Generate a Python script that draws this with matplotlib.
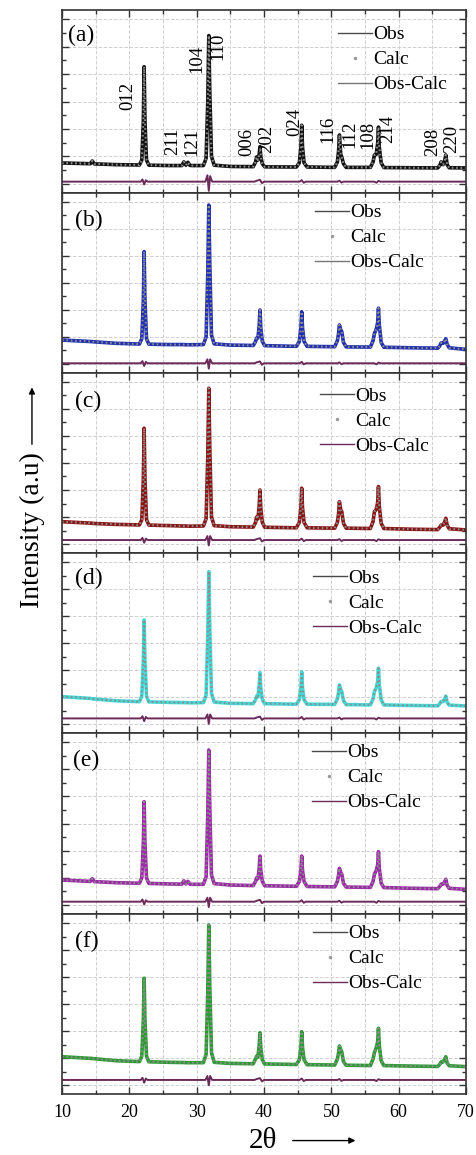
import numpy as np
import matplotlib
matplotlib.use("Agg")
import matplotlib.pyplot as plt
from matplotlib.lines import Line2D

plt.rcParams['font.family'] = ['Liberation Serif', 'DejaVu Serif']

# shared 2theta vertices of the patterns
two_theta = [10, 14.2, 14.5, 14.8, 18,
             21.5, 21.85, 22.08, 22.2, 22.32, 22.55, 22.9,
             26, 27.8, 28.1, 28.4, 28.7, 29.0, 29.3,
             31.0, 31.4, 31.65, 31.8, 31.95, 32.2, 32.6,
             35,
             38.4, 38.75, 38.9, 39.1, 39.28, 39.4, 39.52, 39.75, 40.1,
             44.8, 45.25, 45.48, 45.6, 45.72, 45.95, 46.4,
             50.5, 50.9, 51.08, 51.2, 51.4, 51.55, 51.8, 52.2,
             55.8, 56.2, 56.4, 56.65, 56.88, 57.0, 57.12, 57.4, 57.8,
             62,
             65.8, 66.1, 66.3, 66.6, 66.85, 67.0, 67.2, 67.5,
             70]

# observed intensity of each sample (a.u.), the calc curve lies on it
obs_a = [16.4, 16.0, 17.5, 15.9, 15.5,
         15.3, 18, 39, 69, 39, 18, 15.2,
         15.0, 15.0, 17.0, 15.2, 16.8, 15.1, 15.0,
         15.0, 19, 50, 86, 55, 20, 15.2,
         14.5,
         14.4, 17, 19.7, 18, 21, 25.3, 20, 16, 14.3,
         14.2, 16.5, 25, 37, 25, 16.5, 14.2,
         14.0, 17, 23, 31.7, 21, 19.7, 16, 14.0,
         14.0, 17, 20.8, 21, 27, 36, 25, 16.5, 13.9,
         13.8,
         13.7, 15, 17, 15.5, 18, 20.8, 15.5, 13.8,
         13.7]
obs_b = [18.3, 17.5, 17.4, 17.3, 16.5,
         16.1, 19, 40, 67.4, 40, 19, 16.0,
         15.8, 15.8, 15.8, 15.7, 15.7, 15.7, 15.7,
         15.8, 20, 55, 93.3, 60, 21, 16.2,
         15.5,
         15.3, 17.5, 19.4, 19.5, 26, 35, 25, 17.5, 15.2,
         14.8, 17.5, 25, 34, 25, 17.5, 14.8,
         14.6, 18, 22, 26.7, 24, 23, 17, 14.5,
         14.4, 18, 22, 24, 28, 36, 27, 17, 14.3,
         14.0,
         13.8, 15, 16.7, 16.5, 18, 19, 16, 14,
         13.1]
obs_c = [17.4, 16.6, 16.5, 16.4, 15.9,
         15.6, 18.5, 41, 69.3, 41, 18.5, 15.5,
         15.2, 15.0, 15.0, 15.0, 14.9, 14.9, 14.9,
         15.0, 19, 54, 91.5, 58, 20, 15.2,
         14.6,
         14.4, 17, 20, 19, 26, 35, 25, 17, 14.3,
         14.0, 17, 25, 36, 25, 17, 14.0,
         13.8, 17, 22, 28.5, 24, 23, 16.5, 13.8,
         13.6, 17.5, 23, 24, 28, 36.9, 26, 16.5, 13.6,
         13.2,
         13.0, 14.3, 15.5, 15.5, 17.5, 19.3, 15.5, 13.5,
         12.8]
obs_d = [20.2, 19.2, 19.0, 18.9, 17.9,
         17.4, 20.5, 40, 62.8, 40, 20.5, 17.3,
         17.0, 16.9, 16.9, 16.9, 16.8, 16.8, 16.8,
         16.9, 21, 55, 89.6, 58, 22, 17.2,
         16.5,
         16.3, 18.5, 20.5, 20, 26, 33.5, 25, 18.5, 16.3,
         16.0, 18.5, 25, 34, 25, 18.5, 16.0,
         15.9, 19, 22.5, 26.7, 24, 23, 18, 15.8,
         15.6, 19, 23, 25, 28.5, 36, 27, 18.5, 15.6,
         15.3,
         15.1, 16.3, 17.5, 17.5, 19, 20.5, 17, 15.5,
         15.0]
obs_e = [18.8, 18.0, 19.5, 17.9, 17.3,
         17.0, 20, 39, 62, 39, 20, 16.9,
         16.6, 16.5, 18.3, 16.6, 18.0, 16.5, 16.4,
         16.4, 20.5, 55, 90.6, 58, 21.5, 16.8,
         16.0,
         15.7, 18, 20, 19.5, 25, 32, 24, 18, 15.6,
         15.3, 18, 24, 32, 24, 18, 15.2,
         15.0, 18, 21.5, 25.2, 23, 22, 17, 14.9,
         14.7, 18, 22, 24, 27, 34.4, 25.5, 17, 14.6,
         14.2,
         14.0, 15.2, 16.5, 16.5, 18, 19.2, 15.8, 14.2,
         13.6]
obs_f = [20.7, 19.8, 19.7, 19.6, 18.5,
         18.0, 21, 41, 64.3, 41, 21, 17.9,
         17.6, 17.5, 17.5, 17.4, 17.4, 17.4, 17.4,
         17.4, 22, 57, 93.9, 60, 23, 17.6,
         17.0,
         16.8, 19.5, 21, 20.5, 27, 34, 26, 19, 16.7,
         16.4, 19, 26, 34.6, 26, 19, 16.3,
         16.1, 19.5, 23, 26.7, 24.5, 23.5, 18, 16.0,
         15.8, 19.5, 23, 25.5, 29, 36.5, 27, 18.5, 15.8,
         15.5,
         15.3, 16.5, 17.8, 17.8, 19.5, 20.7, 17.2, 15.7,
         15.2]

# difference curves (offset below the patterns)
diff_x = [10, 21.7, 21.95, 22.2, 22.45, 22.7, 31.3, 31.6, 31.8, 32.0, 32.3,
          38.6, 38.9, 39.4, 39.7, 40.0, 45.3, 45.6, 45.9, 46.2,
          50.9, 51.2, 51.5, 51.8, 56.4, 56.7, 57.0, 57.3, 70]
diff_a = [6.2, 6.2, 7.4, 4.7, 7.0, 6.2, 6.2, 9.7, 1.2, 9.2, 6.2, 6.2, 6.7, 7.2, 5.4,
          6.2, 6.2, 7.0, 5.6, 6.2, 6.2, 6.7, 5.7, 6.2, 6.2, 5.6, 6.6, 6.2, 6.2]
diff_b = [5.4, 5.4, 6.6, 3.9, 6.2, 5.4, 5.4, 7.6, 2.4, 7.6, 5.4, 5.4, 5.9, 6.4, 4.6,
          5.4, 5.4, 6.2, 4.8, 5.4, 5.4, 5.9, 4.9, 5.4, 5.4, 4.8, 5.8, 5.4, 5.4]
diff_c = [7.2, 7.2, 8.4, 5.7, 8.0, 7.2, 7.2, 9.4, 4.2, 9.4, 7.2, 7.2, 7.7, 8.2, 6.4,
          7.2, 7.2, 8.0, 6.6, 7.2, 7.2, 7.7, 6.7, 7.2, 7.2, 6.6, 7.6, 7.2, 7.2]
diff_d = [8.1, 8.1, 9.3, 6.6, 8.9, 8.1, 8.1, 10.3, 5.1, 10.3, 8.1, 8.1, 8.6, 9.1, 7.3,
          8.1, 8.1, 8.9, 7.5, 8.1, 8.1, 8.6, 7.6, 8.1, 8.1, 7.5, 8.5, 8.1, 8.1]
diff_e = [6.8, 6.8, 8.0, 5.3, 7.6, 6.8, 6.8, 9.0, 3.8, 9.0, 6.8, 6.8, 7.3, 7.8, 6.0,
          6.8, 6.8, 7.6, 6.2, 6.8, 6.8, 7.3, 6.3, 6.8, 6.8, 6.2, 7.2, 6.8, 6.8]
diff_f = [7.8, 7.8, 9.0, 6.3, 8.6, 7.8, 7.8, 10.0, 4.8, 10.0, 7.8, 7.8, 8.3, 8.8, 7.0,
          7.8, 7.8, 8.6, 7.2, 7.8, 7.8, 8.3, 7.3, 7.8, 7.8, 7.2, 8.2, 7.8, 7.8]

panel_names = ["(a)", "(b)", "(c)", "(d)", "(e)", "(f)"]
obs_all = [obs_a, obs_b, obs_c, obs_d, obs_e, obs_f]
diff_all = [diff_a, diff_b, diff_c, diff_d, diff_e, diff_f]
colors = ["#111111", "#2030b0", "#8a1414", "#45d6d6", "#9c2aa8", "#2e9a35"]

# hkl labels of panel (a)
hkl = ["012", "211", "121", "104", "110", "006", "202", "024",
       "116", "112", "108", "214", "208", "220"]
hkl_x = [19.8, 26.5, 29.3, 30.0, 33.2, 37.4, 40.4, 44.6, 49.5, 52.7, 55.4, 58.4, 65.1, 67.9]
hkl_y = [53, 28, 28, 73, 80, 28, 29.5, 39, 35, 32, 32, 35, 28, 29.5]

# pixel rows of each panel in the 477x1155 picture
rows = [(10, 193), (193, 373), (373, 553), (553, 733), (733, 914), (914, 1094)]
leg_pos = [(0.683, 0.914), (0.626, 0.94), (0.639, 0.92), (0.621, 0.91), (0.619, 0.94), (0.621, 0.94)]
lab_pos = [(0.015, 0.863), (0.032, 0.85), (0.032, 0.84), (0.032, 0.86), (0.027, 0.85), (0.032, 0.845)]
diff_color = "#6b2a5a"

fig = plt.figure(figsize=(4.77, 11.55), dpi=100)
W, H = 477.0, 1155.0
axes = []
for i, (top, bot) in enumerate(rows):
    ax = fig.add_axes([62 / W, 1 - bot / H, (466 - 62) / W, (bot - top) / H])
    axes.append(ax)
    ax.plot(two_theta, obs_all[i], color=colors[i], lw=2.6, solid_joinstyle="round")  # Obs
    ax.plot(two_theta, obs_all[i], color="#8c8c8c", lw=1.5, ls=(0, (0.8, 1.3)))  # Calc
    ax.plot(diff_x, diff_all[i], color=diff_color, lw=1.4)  # Obs-Calc
    ax.set_xlim(10, 70)
    ax.set_ylim(0, 100)
    ax.set_xticks(np.arange(10, 71, 10))
    ax.set_xticks(np.arange(15, 70, 10), minor=True)
    ax.set_yticks(np.arange(5, 100, 15))
    ax.set_yticks(np.arange(12.5, 100, 15), minor=True)
    ax.set_yticklabels([])
    ax.grid(which="both", axis="x", ls="--", color="#d0d0d0", lw=0.7)
    ax.grid(which="major", axis="y", ls="--", color="#d0d0d0", lw=0.7)
    ax.set_axisbelow(True)
    ax.tick_params(which="both", direction="in", top=True, right=True, color="#333333")
    ax.tick_params(which="major", length=5, width=1)
    ax.tick_params(which="minor", length=3, width=1)
    for sp in ax.spines.values():
        sp.set_color("#333333")
        sp.set_linewidth(1.2)
    if i < 5:
        ax.set_xticklabels([])
    else:
        ax.tick_params(axis="x", labelsize=13, pad=7)
    ax.text(lab_pos[i][0], lab_pos[i][1], panel_names[i], transform=ax.transAxes,
            fontsize=17, ha="left", va="center")
    handles = [Line2D([], [], color="#4a4a4a", lw=1.0),
               Line2D([], [], ls="", marker="o", ms=1.5, color="#9a9a9a"),
               Line2D([], [], color=diff_color if i > 1 else "#777777", lw=1.0)]
    ax.legend(handles, ["Obs", "Calc", "Obs-Calc"], loc="upper left",
              bbox_to_anchor=leg_pos[i], frameon=False, fontsize=14,
              handlelength=1.75, handletextpad=0.08, labelspacing=0.38,
              borderpad=0, borderaxespad=0)

# hkl labels on panel (a)
for lab, x, y in zip(hkl, hkl_x, hkl_y):
    axes[0].text(x, y, lab, rotation=90, fontsize=13.5, ha="center", va="center")

# axis titles with arrows
fig.text(0.067, 0.541, "Intensity (a.u)", rotation=90, fontsize=20, ha="center", va="center")
axes[0].annotate("", xy=(0.067, 0.667), xytext=(0.067, 0.613), xycoords="figure fraction",
                 textcoords="figure fraction", annotation_clip=False,
                 arrowprops=dict(arrowstyle="-|>", color="black", lw=1.0, mutation_scale=9))
fig.text(0.552, 0.0125, "2θ", fontsize=21, ha="center", va="center")
axes[0].annotate("", xy=(0.751, 0.0125), xytext=(0.608, 0.0125), xycoords="figure fraction",
                 textcoords="figure fraction", annotation_clip=False,
                 arrowprops=dict(arrowstyle="-|>", color="black", lw=1.0, mutation_scale=9))

fig.savefig("out.png", dpi=100)
